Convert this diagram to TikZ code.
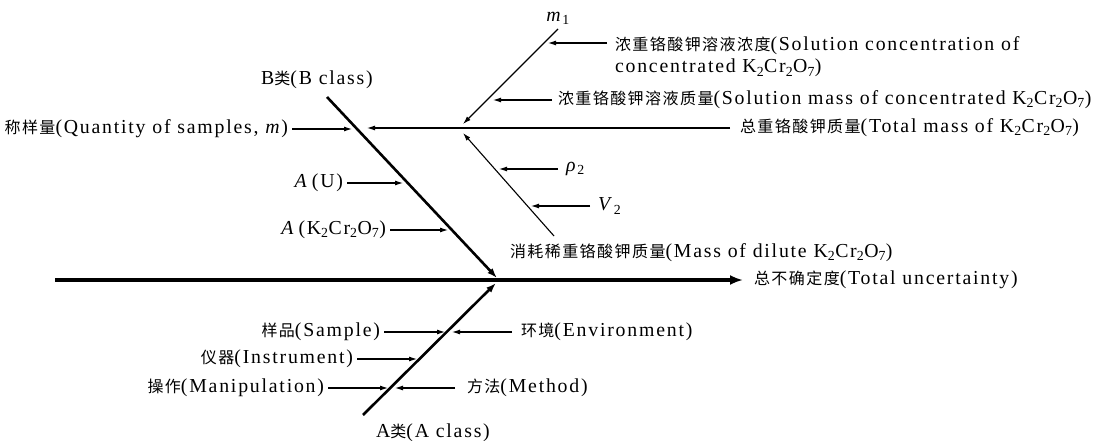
\documentclass[tikz,border=0pt]{standalone}
\usepackage{fontspec}
\setmainfont[LetterSpace=9]{Liberation Serif}
\newfontfamily\zhfont[LetterSpace=9]{Noto Sans CJK SC}
\usetikzlibrary{arrows.meta,positioning,calc}
\newcommand{\zh}[1]{{\zhfont\fontsize{16}{22}\selectfont #1}}
\newcommand{\kcro}{K\textsubscript{2}Cr\textsubscript{2}O\textsubscript{7}}

\begin{document}
\begin{tikzpicture}[x=1pt,y=-1pt,
    every node/.style={font=\fontsize{19.8}{22}\selectfont},
    lbl/.style={inner sep=0pt,outer sep=4pt},
    spine/.style={line width=3.6pt,-{Latex[length=13pt,width=10pt]}},
    bone/.style={line width=2.6pt,-{Latex[length=10pt,width=7pt]}},
    twig/.style={line width=1.1pt,-{Latex[length=8pt,width=5pt]}}]
  \useasboundingbox (0,0) rectangle (1098,441);
  \coordinate (tail) at (55,280);
  \coordinate (bTop) at (327,97);
  \coordinate (bEnd) at (497,278);
  \coordinate (aBot) at (363,415);
  \coordinate (aEnd) at (496,283);
  \coordinate (bHit) at (367,128);
  \coordinate (m1Top) at (558,29);
  \coordinate (mTip) at (463,124);
  \coordinate (dilBot) at (554,236);
  \coordinate (dilTip) at (463,133);
  % tips on the bones
  \coordinate (qtyTip) at (352,129);
  \coordinate (uTip) at (403,183);
  \coordinate (kTip) at (448,230);
  \coordinate (concTip) at (548,43);
  \coordinate (mcTip) at (493,99);
  \coordinate (rhoTip) at (499,169);
  \coordinate (vTip) at (531,206);
  \coordinate (smpTip) at (445,332);
  \coordinate (envTip) at (452,332);
  \coordinate (insTip) at (417,359);
  \coordinate (manTip) at (388,388);
  \coordinate (metTip) at (395,388);

  \node[lbl,anchor=west,outer sep=11pt] (total) at (743,280)
    {\zh{总不确定度}(Total uncertainty)};
  \node (bClass) at (317,80) {B\zh{类}(B class)};
  \node (aClass) at (433,433) {A\zh{类}(A class)};
  \node[lbl,anchor=east] (qty) at (292,129)
    {\zh{称样量}(Quantity of samples, \textit{m})};
  \node[lbl,anchor=east] (aU) at (347,183) {\textit{A}\,(U)};
  \node[lbl,anchor=east] (aK) at (390,230) {\textit{A}\,(\kcro)};
  \node[lbl,anchor=north west,outer sep=8pt,align=left] (conc) at (607,29)
    {\zh{浓重铬酸钾溶液浓度}(Solution concentration of\\concentrated \kcro)};
  \node[lbl,anchor=west,outer sep=6pt] (massConc) at (552,100)
    {\zh{浓重铬酸钾溶液质量}(Solution mass of concentrated \kcro)};
  \node[lbl,anchor=west,outer sep=10pt] (totalK) at (730,128)
    {\zh{总重铬酸钾质量}(Total mass of \kcro)};
  \node[above=1pt of m1Top] (m1) {\textit{m}\textsubscript{1}};
  \node[lbl,anchor=west,outer sep=8pt] (rho) at (558,169) {\textit{ρ}\textsubscript{2}};
  \node[lbl,anchor=west,outer sep=8pt] (v2) at (590,206) {\textit{V}\textsubscript{2}};
  \node[lbl,anchor=west] (dil) at (506,253)
    {\zh{消耗稀重铬酸钾质量}(Mass of dilute \kcro)};
  \node[lbl,anchor=east] (sample) at (384,332) {\zh{样品}(Sample)};
  \node[lbl,anchor=east] (instr) at (357,359) {\zh{仪器}(Instrument)};
  \node[lbl,anchor=east] (manip) at (328,388) {\zh{操作}(Manipulation)};
  \node[lbl,anchor=west,outer sep=9pt] (env) at (512,332) {\zh{环境}(Environment)};
  \node[lbl,anchor=west,outer sep=12pt] (method) at (455,388) {\zh{方法}(Method)};

  \draw[spine] (tail) -- (total.west);
  \draw[bone] (bTop) -- (bEnd);
  \draw[bone] (aBot) -- (aEnd);
  \draw[twig] (totalK.west) -- (bHit);
  \draw[twig] (m1Top) -- (mTip);
  \draw[twig] (dilBot) -- (dilTip);
  \draw[twig] (qty.east) -- (qty.east -| qtyTip);
  \draw[twig] (aU.east) -- (aU.east -| uTip);
  \draw[twig] (aK.east) -- (aK.east -| kTip);
  \draw[twig] (conc.west |- concTip) -- (concTip);
  \draw[twig] (massConc.west) -- (massConc.west -| mcTip);
  \draw[twig] (rho.west) -- (rho.west -| rhoTip);
  \draw[twig] (v2.west) -- (v2.west -| vTip);
  \draw[twig] (sample.east) -- (sample.east -| smpTip);
  \draw[twig] (instr.east) -- (instr.east -| insTip);
  \draw[twig] (manip.east) -- (manip.east -| manTip);
  \draw[twig] (env.west) -- (env.west -| envTip);
  \draw[twig] (method.west) -- (method.west -| metTip);
\end{tikzpicture}
\end{document}
